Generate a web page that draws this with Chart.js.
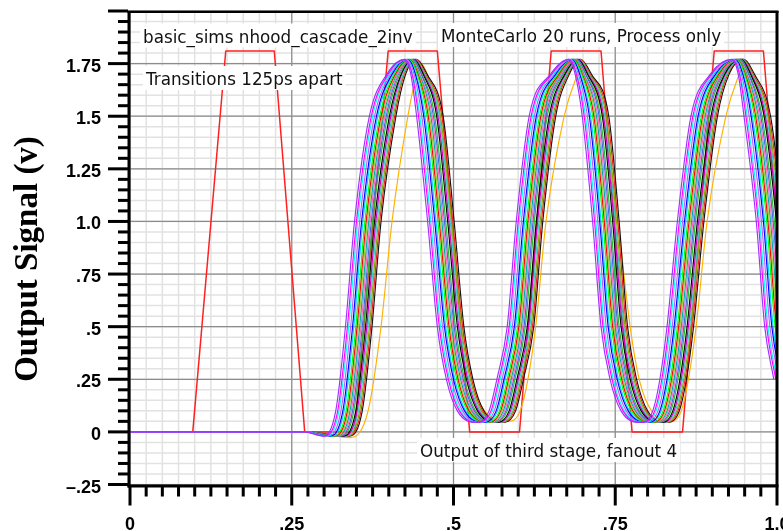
<!DOCTYPE html>
<html>
<head>
<meta charset="utf-8">
<script src="https://cdn.jsdelivr.net/npm/chart.js@4/dist/chart.umd.min.js"></script>
<style>
  html, body { margin: 0; padding: 0; background: #ffffff; }
  canvas { display: block; }
</style>
</head>
<body>
<canvas id="c" width="783" height="531"></canvas>
<script>
// ---------------- axis ranges and tick labels ----------------
const xMin = 0, xMax = 1, yMin = -0.25, yMax = 2.0;
const xTickValues = [0, 0.25, 0.5, 0.75, 1.0];
const xTickLabels = ['0', '.25', '.5', '.75', '1.0'];
const yTickValues = [-0.25, 0, 0.25, 0.5, 0.75, 1.0, 1.25, 1.5, 1.75];
const yTickLabels = ['\u2013.25', '0', '.25', '.5', '.75', '1.0', '1.25', '1.5', '1.75'];

// ---------------- input stimulus (red trapezoid) ----------------
const inputTimes = [0, 0.097, 0.148, 0.223, 0.270, 0.347, 0.399, 0.475, 0.525, 0.602, 0.651, 0.728, 0.776, 0.854, 0.903, 0.979, 1.027];
const inputVolts = [0, 0, 1.81, 1.81, 0, 0, 1.81, 1.81, 0, 0, 1.81, 1.81, 0, 0, 1.81, 1.81, 0];

// ---------------- Monte Carlo outputs ----------------
// voltage levels; each run lists the time (ns) at which it reaches each level
const levels = [0, 0, -0.02, 0.1,
  0.5, 1.0, 1.5, 1.7, 1.77, 1.7, 1.5, 1.0, 0.5, 0.25, 0.1, 0.045, 0.1, 0.25,
  0.5, 1.0, 1.5, 1.7, 1.77, 1.7, 1.5, 1.0, 0.5, 0.25, 0.1, 0.045, 0.1, 0.25,
  0.5, 1.0, 1.5, 1.7, 1.77, 1.7, 1.5, 1.0, 0.5, 0.25];
// the slow (orange) run peaks a little lower
const levelsSlow = [0, 0, -0.027, 0.1,
  0.5, 1.0, 1.5, 1.67, 1.745, 1.67, 1.5, 1.0, 0.5, 0.25, 0.1, 0.05, 0.1, 0.25,
  0.5, 1.0, 1.5, 1.67, 1.75, 1.67, 1.5, 1.0, 0.5, 0.25, 0.1, 0.05, 0.1, 0.25,
  0.5, 1.0, 1.5, 1.67, 1.75, 1.67, 1.5, 1.0, 0.5, 0.25];

const run01 = [0,0.270,0.298,0.318,0.333,0.347,0.370,0.397,0.424,0.434,0.443,0.460,0.475,0.489,0.506,0.537,0.555,0.567,0.583,0.597,0.617,0.650,0.678,0.688,0.699,0.715,0.728,0.742,0.759,0.790,0.808,0.819,0.830,0.846,0.867,0.897,0.930,0.940,0.949,0.968,0.981,0.995];
const run02 = [0,0.270,0.301,0.321,0.336,0.350,0.373,0.399,0.425,0.436,0.446,0.463,0.478,0.492,0.509,0.540,0.558,0.570,0.586,0.600,0.620,0.652,0.679,0.690,0.702,0.718,0.731,0.745,0.762,0.793,0.811,0.822,0.833,0.849,0.870,0.899,0.931,0.942,0.952,0.971,0.984,0.998];
const run03 = [0,0.270,0.303,0.323,0.338,0.352,0.375,0.401,0.426,0.437,0.448,0.465,0.480,0.494,0.511,0.542,0.560,0.572,0.588,0.602,0.622,0.654,0.680,0.691,0.704,0.720,0.733,0.747,0.764,0.795,0.813,0.824,0.835,0.851,0.872,0.901,0.932,0.943,0.954,0.973,0.986,1.000];
const run04 = [0,0.270,0.306,0.326,0.341,0.355,0.378,0.403,0.428,0.439,0.451,0.468,0.483,0.497,0.514,0.545,0.563,0.575,0.591,0.605,0.625,0.656,0.682,0.693,0.707,0.723,0.736,0.750,0.767,0.798,0.816,0.827,0.838,0.854,0.875,0.903,0.934,0.945,0.957,0.976,0.989,1.003];
const run05 = [0,0.270,0.309,0.329,0.344,0.358,0.381,0.405,0.429,0.441,0.454,0.471,0.486,0.500,0.517,0.548,0.566,0.578,0.594,0.608,0.628,0.658,0.683,0.695,0.710,0.726,0.739,0.753,0.770,0.801,0.819,0.830,0.841,0.857,0.878,0.905,0.935,0.947,0.960,0.979,0.992,1.006];
const run06 = [0,0.270,0.311,0.331,0.346,0.360,0.383,0.406,0.430,0.442,0.456,0.473,0.488,0.502,0.519,0.550,0.568,0.580,0.596,0.610,0.630,0.659,0.684,0.696,0.712,0.728,0.741,0.755,0.772,0.803,0.821,0.832,0.843,0.859,0.880,0.906,0.936,0.948,0.962,0.981,0.994,1.008];
const run07 = [0,0.270,0.314,0.334,0.349,0.363,0.386,0.408,0.431,0.444,0.459,0.476,0.491,0.505,0.522,0.553,0.571,0.583,0.599,0.613,0.633,0.661,0.685,0.698,0.715,0.731,0.744,0.758,0.775,0.806,0.824,0.835,0.846,0.862,0.883,0.908,0.937,0.950,0.965,0.984,0.997,1.011];
const run08 = [0,0.270,0.316,0.336,0.351,0.365,0.388,0.410,0.432,0.445,0.461,0.478,0.493,0.507,0.524,0.555,0.573,0.585,0.601,0.615,0.635,0.663,0.686,0.699,0.717,0.733,0.746,0.760,0.777,0.808,0.826,0.837,0.848,0.864,0.885,0.910,0.938,0.951,0.967,0.986,0.999,1.013];
const run09 = [0,0.270,0.318,0.338,0.353,0.367,0.390,0.411,0.433,0.446,0.463,0.480,0.495,0.509,0.526,0.557,0.575,0.587,0.603,0.617,0.637,0.664,0.687,0.700,0.719,0.735,0.748,0.762,0.779,0.810,0.828,0.839,0.850,0.866,0.887,0.911,0.939,0.952,0.969,0.988,1.001,1.015];
const run10 = [0,0.270,0.320,0.340,0.355,0.369,0.392,0.412,0.434,0.447,0.465,0.482,0.497,0.511,0.528,0.559,0.577,0.589,0.605,0.619,0.639,0.665,0.688,0.701,0.721,0.737,0.750,0.764,0.781,0.812,0.830,0.841,0.852,0.868,0.889,0.912,0.940,0.953,0.971,0.990,1.003,1.017];
const run11 = [0,0.270,0.322,0.342,0.357,0.371,0.394,0.414,0.435,0.448,0.467,0.484,0.499,0.513,0.530,0.561,0.579,0.591,0.607,0.621,0.641,0.667,0.689,0.702,0.723,0.739,0.752,0.766,0.783,0.814,0.832,0.843,0.854,0.870,0.891,0.914,0.941,0.954,0.973,0.992,1.005,1.019];
const run12 = [0,0.270,0.324,0.344,0.359,0.373,0.396,0.415,0.436,0.450,0.469,0.486,0.501,0.515,0.532,0.563,0.581,0.593,0.609,0.623,0.643,0.668,0.690,0.704,0.725,0.741,0.754,0.768,0.785,0.816,0.834,0.845,0.856,0.872,0.893,0.915,0.942,0.956,0.975,0.994,1.007,1.021];
const run13 = [0,0.270,0.326,0.346,0.361,0.375,0.398,0.417,0.437,0.451,0.471,0.488,0.503,0.517,0.534,0.565,0.583,0.595,0.611,0.625,0.645,0.670,0.691,0.705,0.727,0.743,0.756,0.770,0.787,0.818,0.836,0.847,0.858,0.874,0.895,0.917,0.943,0.957,0.977,0.996,1.009,1.023];
const run14 = [0,0.270,0.329,0.349,0.364,0.378,0.401,0.419,0.438,0.453,0.474,0.491,0.506,0.520,0.537,0.568,0.586,0.598,0.614,0.628,0.648,0.672,0.692,0.707,0.730,0.746,0.759,0.773,0.790,0.821,0.839,0.850,0.861,0.877,0.898,0.919,0.944,0.959,0.980,0.999,1.012,1.026];
const run15 = [0,0.270,0.331,0.351,0.366,0.380,0.403,0.420,0.439,0.454,0.476,0.493,0.508,0.522,0.539,0.570,0.588,0.600,0.616,0.630,0.650,0.673,0.693,0.708,0.732,0.748,0.761,0.775,0.792,0.823,0.841,0.852,0.863,0.879,0.900,0.920,0.945,0.960,0.982,1.001,1.014,1.028];
const run16 = [0,0.270,0.333,0.353,0.368,0.382,0.405,0.422,0.440,0.455,0.478,0.495,0.510,0.524,0.541,0.572,0.590,0.602,0.618,0.632,0.652,0.675,0.694,0.709,0.734,0.750,0.763,0.777,0.794,0.825,0.843,0.854,0.865,0.881,0.902,0.922,0.946,0.961,0.984,1.003,1.016,1.030];
const run17 = [0,0.270,0.335,0.355,0.370,0.384,0.407,0.423,0.441,0.456,0.480,0.497,0.512,0.526,0.543,0.574,0.592,0.604,0.620,0.634,0.654,0.676,0.695,0.710,0.736,0.752,0.765,0.779,0.796,0.827,0.845,0.856,0.867,0.883,0.904,0.923,0.947,0.962,0.986,1.005,1.018,1.032];
const run18 = [0,0.270,0.337,0.357,0.372,0.386,0.409,0.424,0.442,0.457,0.482,0.499,0.514,0.528,0.545,0.576,0.594,0.606,0.622,0.636,0.656,0.677,0.696,0.711,0.738,0.754,0.767,0.781,0.798,0.829,0.847,0.858,0.869,0.885,0.906,0.924,0.948,0.963,0.988,1.007,1.020,1.034];
const run19 = [0,0.270,0.339,0.359,0.374,0.388,0.411,0.426,0.442,0.459,0.484,0.501,0.516,0.530,0.547,0.578,0.596,0.608,0.624,0.638,0.658,0.679,0.696,0.713,0.740,0.756,0.769,0.783,0.800,0.831,0.849,0.860,0.871,0.887,0.908,0.926,0.948,0.965,0.990,1.009,1.022,1.036];
const run20 = [0,0.270,0.340,0.368,0.388,0.405,0.4295,0.441,0.451,0.463,0.479,0.496,0.514,0.528,0.548,0.585,0.603,0.615,0.627,0.643,0.671,0.688,0.702,0.714,0.731,0.754,0.773,0.787,0.806,0.838,0.852,0.863,0.875,0.892,0.921,0.938,0.952,0.964,0.981,1.003,1.020,1.034];

const runs = [run01, run02, run03, run04, run05, run06, run07, run08, run09, run10,
              run11, run12, run13, run14, run15, run16, run17, run18, run19, run20];
const runColors = ['#9933ff', '#ff00ff', '#00ffff', '#b266ff', '#0000ff', '#00d8ff', '#00ff00', '#ff0000', '#9acd32', '#00aaaa',
                   '#ff66cc', '#4169e1', '#22bb22', '#000000', '#cc00cc', '#33cccc', '#88aa00', '#ee2222', '#111111', '#ffb000'];

// ---------------- build datasets ----------------
const datasets = runs.map((times, i) => {
  const lv = (i === runs.length - 1) ? levelsSlow : levels;
  return {
    label: 'run ' + (i + 1),
    data: times.map((t, k) => ({ x: t, y: lv[k] })),
    borderColor: runColors[i],
    borderWidth: 1.15,
    pointRadius: 0,
    showLine: true,
    fill: false,
    cubicInterpolationMode: 'monotone'
  };
});
datasets.push({
  label: 'input',
  data: inputTimes.map((t, k) => ({ x: t, y: inputVolts[k] })),
  borderColor: '#ff2020',
  borderWidth: 1.5,
  pointRadius: 0,
  showLine: true,
  fill: false,
  tension: 0
});

const annotations = [
  { text: 'basic_sims nhood_cascade_2inv', x: 143, y: 42.5 },
  { text: 'MonteCarlo 20 runs, Process only', x: 441, y: 42 },
  { text: 'Transitions 125ps apart', x: 146, y: 85 },
  { text: 'Output of third stage, fanout 4', x: 420, y: 457 }
];

const decor = {
  id: 'decor',
  beforeDatasetsDraw(chart) {
    const { ctx, chartArea: a, scales: { x, y } } = chart;
    ctx.save();
    ctx.fillStyle = '#ffffff';
    ctx.fillRect(a.left, a.top, a.right - a.left, a.bottom - a.top);
    ctx.strokeStyle = '#e2e2e2';
    ctx.lineWidth = 1.5;
    ctx.beginPath();
    for (let i = 0; i <= 40; i++) {
      const px = x.getPixelForValue(xMin + i * 0.025);
      ctx.moveTo(px, a.top); ctx.lineTo(px, a.bottom);
    }
    for (let i = 0; i <= 45; i++) {
      const py = y.getPixelForValue(yMin + i * 0.05);
      ctx.moveTo(a.left, py); ctx.lineTo(a.right, py);
    }
    ctx.stroke();
    ctx.strokeStyle = '#8c8c8c';
    ctx.lineWidth = 1.2;
    ctx.beginPath();
    xTickValues.forEach(v => {
      const px = x.getPixelForValue(v);
      ctx.moveTo(px, a.top); ctx.lineTo(px, a.bottom);
    });
    yTickValues.forEach(v => {
      const py = y.getPixelForValue(v);
      ctx.moveTo(a.left, py); ctx.lineTo(a.right, py);
    });
    ctx.stroke();
    ctx.restore();
  },
  afterDatasetsDraw(chart) {
    const { ctx, chartArea: a, scales: { x, y } } = chart;
    ctx.save();
    ctx.font = '16.8px "DejaVu Sans"';
    ctx.textAlign = 'left';
    ctx.textBaseline = 'alphabetic';
    annotations.forEach(n => {
      const w = ctx.measureText(n.text).width;
      ctx.fillStyle = '#ffffff';
      ctx.fillRect(n.x - 3, n.y - 19, w + 6, 24);
      ctx.fillStyle = '#111111';
      ctx.fillText(n.text, n.x, n.y);
    });
    ctx.fillStyle = '#000000';
    ctx.fillRect(a.left - 2.5, a.top, 3, a.bottom - a.top + 3);
    ctx.fillRect(a.left - 2.5, a.bottom, a.right - a.left + 4, 3);
    ctx.fillRect(a.left - 2.5, a.top - 0.5, a.right - a.left + 4, 2.5);
    ctx.fillRect(a.right - 1.5, a.top, 3, a.bottom - a.top + 2);
    for (let i = 0; i <= 45; i++) {
      const py = y.getPixelForValue(yMin + i * 0.05);
      const len = (i % 5 === 0) ? 20 : 10;
      ctx.fillRect(a.left - 2 - len, py - 1.5, len, 3);
    }
    for (let i = 0; i <= 40; i++) {
      const px = x.getPixelForValue(xMin + i * 0.025);
      const len = (i % 10 === 0) ? 19 : 10;
      ctx.fillRect(px - 1.5, a.bottom + 2, 3, len);
    }
    ctx.font = 'bold 18px "Liberation Sans", Arial, sans-serif';
    ctx.fillStyle = '#000000';
    ctx.textAlign = 'right';
    ctx.textBaseline = 'alphabetic';
    yTickValues.forEach((v, i) => {
      ctx.fillText(yTickLabels[i], 101, y.getPixelForValue(v) + 8);
    });
    ctx.textAlign = 'center';
    xTickValues.forEach((v, i) => {
      ctx.fillText(xTickLabels[i], x.getPixelForValue(v), 530);
    });
    ctx.translate(36.5, 259);
    ctx.rotate(-Math.PI / 2);
    ctx.font = 'bold 33px "Liberation Serif", "Times New Roman", serif';
    ctx.textAlign = 'center';
    ctx.fillText('Output Signal (v)', 0, 0);
    ctx.restore();
  }
};

new Chart(document.getElementById('c'), {
  type: 'scatter',
  data: { datasets },
  options: {
    responsive: false,
    animation: false,
    devicePixelRatio: 1,
    layout: { padding: { left: 130, right: 6, top: 11, bottom: 46.5 } },
    scales: {
      x: { type: 'linear', min: xMin, max: xMax, display: false },
      y: { type: 'linear', min: yMin, max: yMax, display: false }
    },
    plugins: { legend: { display: false }, tooltip: { enabled: false } },
    elements: { line: { borderJoinStyle: 'round' } }
  },
  plugins: [decor]
});
</script>
</body>
</html>
